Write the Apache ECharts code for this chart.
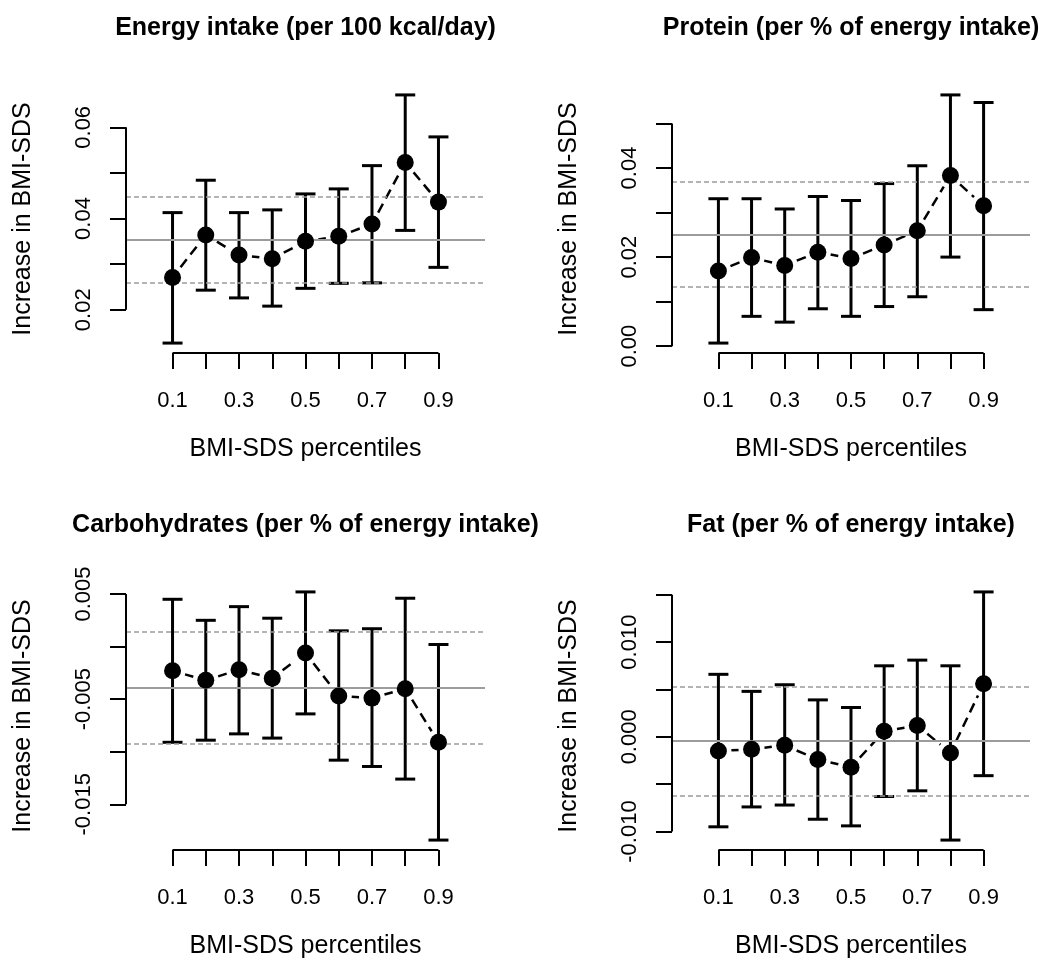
<!DOCTYPE html>
<html>
<head>
<meta charset="utf-8">
<style>
  html, body { margin: 0; padding: 0; background: #ffffff; }
  #chart { width: 1041px; height: 971px; }
</style>
<script src="https://cdn.jsdelivr.net/npm/echarts@6/dist/echarts.min.js"></script>
</head>
<body>
<div id="chart"></div>
<script>
// ---------------- data ----------------
const percentiles = [0.1, 0.2, 0.3, 0.4, 0.5, 0.6, 0.7, 0.8, 0.9];
const xTicks = [0.1, 0.2, 0.3, 0.4, 0.5, 0.6, 0.7, 0.8, 0.9];
const xTickLabels = [0.1, 0.3, 0.5, 0.7, 0.9];
const xLimits = [0, 1];

const titles = [
  'Energy intake (per 100 kcal/day)',
  'Protein (per % of energy intake)',
  'Carbohydrates (per % of energy intake)',
  'Fat (per % of energy intake)'
];
const yTitle = 'Increase in BMI-SDS';
const xTitle = 'BMI-SDS percentiles';

// Energy intake
const energyEst = [0.0271, 0.0364, 0.0320, 0.0312, 0.0350, 0.0361, 0.0388, 0.0523, 0.0436];
const energyLow = [0.0127, 0.0243, 0.0226, 0.0208, 0.0247, 0.0258, 0.0259, 0.0374, 0.0293];
const energyUp  = [0.0413, 0.0484, 0.0413, 0.0419, 0.0454, 0.0465, 0.0516, 0.0671, 0.0579];
const energyMean = 0.0353;
const energyMeanCI = [0.0260, 0.0447];
const energyYTicks = [0.02, 0.03, 0.04, 0.05, 0.06];
const energyYLabels = ['0.02', '0.04', '0.06'];

// Protein
const proteinEst = [0.0169, 0.0199, 0.0181, 0.0211, 0.0197, 0.0227, 0.0259, 0.0383, 0.0315];
const proteinLow = [0.0007, 0.0067, 0.0054, 0.0084, 0.0067, 0.0089, 0.0111, 0.0200, 0.0082];
const proteinUp  = [0.0331, 0.0331, 0.0308, 0.0336, 0.0327, 0.0365, 0.0405, 0.0564, 0.0547];
const proteinMean = 0.0251;
const proteinMeanCI = [0.0133, 0.0370];
const proteinYTicks = [0.00, 0.01, 0.02, 0.03, 0.04, 0.05];
const proteinYLabels = ['0.00', '0.02', '0.04'];

// Carbohydrates
const carbEst = [-0.0023, -0.0032, -0.0022, -0.0030, -0.0006, -0.0047, -0.0049, -0.0040, -0.0091];
const carbLow = [-0.0091, -0.0089, -0.0083, -0.0087, -0.0064, -0.0108, -0.0114, -0.0126, -0.0184];
const carbUp  = [0.0045, 0.0025, 0.0038, 0.0027, 0.0052, 0.0015, 0.0017, 0.0046, 0.0002];
const carbMean = -0.0039;
const carbMeanCI = [-0.0092, 0.0014];
const carbYTicks = [-0.015, -0.010, -0.005, 0.000, 0.005];
const carbYLabels = ['-0.015', '-0.005', '0.005'];

// Fat
const fatEst = [-0.0015, -0.0013, -0.0009, -0.0024, -0.0032, 0.0006, 0.0012, -0.0017, 0.0056];
const fatLow = [-0.0095, -0.0074, -0.0072, -0.0087, -0.0094, -0.0063, -0.0057, -0.0109, -0.0041];
const fatUp  = [0.0066, 0.0048, 0.0055, 0.0039, 0.0031, 0.0075, 0.0081, 0.0075, 0.0153];
const fatMean = -0.0004;
const fatMeanCI = [-0.0062, 0.0053];
const fatYTicks = [-0.010, -0.005, 0.000, 0.005, 0.010, 0.015];
const fatYLabels = ['-0.010', '0.000', '0.010'];

// ---------------- layout / styles ----------------
const panels = [
  { est: energyEst, low: energyLow, up: energyUp, mean: energyMean, ci: energyMeanCI, ticks: energyYTicks, labels: energyYLabels },
  { est: proteinEst, low: proteinLow, up: proteinUp, mean: proteinMean, ci: proteinMeanCI, ticks: proteinYTicks, labels: proteinYLabels },
  { est: carbEst, low: carbLow, up: carbUp, mean: carbMean, ci: carbMeanCI, ticks: carbYTicks, labels: carbYLabels },
  { est: fatEst, low: fatLow, up: fatUp, mean: fatMean, ci: fatMeanCI, ticks: fatYTicks, labels: fatYLabels }
];
const gridBoxes = [
  { left: 126, top: 85, width: 359, height: 268 },
  { left: 672, top: 85, width: 358, height: 268 },
  { left: 126, top: 582, width: 359, height: 268 },
  { left: 672, top: 582, width: 358, height: 268 }
];
const FONT = 'Liberation Sans, Arial, Helvetica, sans-serif';
const GRAY = '#9c9c9c';

function extend(lo, hi) { const d = (hi - lo) * 0.04; return [lo - d, hi + d]; }
const xExt = extend(xLimits[0], xLimits[1]);

const option = {
  backgroundColor: '#ffffff',
  animation: false,
  title: [], grid: [], xAxis: [], yAxis: [], series: []
};

panels.forEach((p, k) => {
  const g = gridBoxes[k];
  const yExt = extend(Math.min.apply(null, p.low), Math.max.apply(null, p.up));
  const labelVals = p.labels.map(Number);
  option.grid.push({ left: g.left, top: g.top, width: g.width, height: g.height, containLabel: false });
  option.title.push({
    text: titles[k], left: g.left + g.width / 2, top: g.top - 69, textAlign: 'center', padding: 0,
    textStyle: { fontFamily: FONT, fontSize: 25, fontWeight: 'bold', color: '#000' }
  });
  option.xAxis.push({
    type: 'value', gridIndex: k, min: xExt[0], max: xExt[1],
    name: xTitle, nameLocation: 'middle', nameGap: 84,
    nameTextStyle: { fontFamily: FONT, fontSize: 25, color: '#000' },
    axisLine: { show: false, onZero: false },
    axisTick: { show: true, customValues: xTicks, length: 16, inside: false, lineStyle: { color: '#000', width: 2 } },
    axisLabel: { show: true, customValues: xTickLabels, margin: 37, fontFamily: FONT, fontSize: 22, color: '#000',
      formatter: v => v.toFixed(1) },
    splitLine: { show: false }
  });
  option.yAxis.push({
    type: 'value', gridIndex: k, min: yExt[0], max: yExt[1],
    name: yTitle, nameLocation: 'middle', nameGap: 90, nameRotate: 90,
    nameTextStyle: { fontFamily: FONT, fontSize: 25, color: '#000' },
    axisLine: { show: false, onZero: false },
    axisTick: { show: true, customValues: p.ticks, length: 16, inside: false, lineStyle: { color: '#000', width: 2 } },
    axisLabel: { show: true, customValues: labelVals, rotate: 90, margin: 31, fontFamily: FONT, fontSize: 22, color: '#000',
      formatter: v => { const i = labelVals.findIndex(t => Math.abs(t - v) < 1e-9); return i >= 0 ? p.labels[i] : ''; } },
    splitLine: { show: false }
  });

  // reference lines
  option.series.push({
    type: 'line', xAxisIndex: k, yAxisIndex: k, data: [], silent: true, z: 1,
    markLine: {
      silent: true, symbol: ['none', 'none'], label: { show: false }, precision: 8,
      data: [
        { yAxis: p.mean, lineStyle: { color: GRAY, width: 2, type: 'solid' } },
        { yAxis: p.ci[0], lineStyle: { color: GRAY, width: 1.5, type: [5, 3] } },
        { yAxis: p.ci[1], lineStyle: { color: GRAY, width: 1.5, type: [5, 3] } }
      ]
    }
  });

  // axis lines (R style: from first to last tick)
  option.series.push({
    type: 'line', xAxisIndex: k, yAxisIndex: k, silent: true, clip: false, symbol: 'none', z: 5,
    lineStyle: { color: '#000', width: 2 },
    data: [[xTicks[0], yExt[0]], [xTicks[xTicks.length - 1], yExt[0]]]
  });
  option.series.push({
    type: 'line', xAxisIndex: k, yAxisIndex: k, silent: true, clip: false, symbol: 'none', z: 5,
    lineStyle: { color: '#000', width: 2 },
    data: [[xExt[0], p.ticks[0]], [xExt[0], p.ticks[p.ticks.length - 1]]]
  });

  // connecting dashed segments with gaps (type "b")
  const segs = percentiles.slice(1).map((x, i) => [percentiles[i], p.est[i], x, p.est[i + 1]]);
  option.series.push({
    type: 'custom', xAxisIndex: k, yAxisIndex: k, silent: true, z: 3, clip: false,
    encode: { x: [0, 2], y: [1, 3] },
    data: segs,
    renderItem: (params, api) => {
      const a = api.coord([api.value(0), api.value(1)]);
      const b = api.coord([api.value(2), api.value(3)]);
      const dx = b[0] - a[0], dy = b[1] - a[1];
      const len = Math.sqrt(dx * dx + dy * dy);
      const gap = 13;
      if (len <= 2 * gap) return null;
      const ux = dx / len, uy = dy / len;
      return {
        type: 'line',
        shape: { x1: a[0] + ux * gap, y1: a[1] + uy * gap, x2: b[0] - ux * gap, y2: b[1] - uy * gap },
        style: { stroke: '#000', lineWidth: 2.5, lineDash: [10, 6] }
      };
    }
  });

  // error bars
  option.series.push({
    type: 'custom', xAxisIndex: k, yAxisIndex: k, silent: true, z: 4, clip: false,
    encode: { x: 0, y: [1, 2] },
    data: percentiles.map((x, i) => [x, p.low[i], p.up[i]]),
    renderItem: (params, api) => {
      const lo = api.coord([api.value(0), api.value(1)]);
      const hi = api.coord([api.value(0), api.value(2)]);
      const hw = 10;
      const st = { stroke: '#000', lineWidth: 3 };
      return {
        type: 'group',
        children: [
          { type: 'line', shape: { x1: lo[0], y1: lo[1], x2: hi[0], y2: hi[1] }, style: st },
          { type: 'line', shape: { x1: lo[0] - hw, y1: lo[1], x2: lo[0] + hw, y2: lo[1] }, style: st },
          { type: 'line', shape: { x1: hi[0] - hw, y1: hi[1], x2: hi[0] + hw, y2: hi[1] }, style: st }
        ]
      };
    }
  });

  // point estimates
  option.series.push({
    type: 'scatter', xAxisIndex: k, yAxisIndex: k, silent: true, z: 6,
    symbol: 'circle', symbolSize: 17,
    itemStyle: { color: '#000', opacity: 1 },
    data: percentiles.map((x, i) => [x, p.est[i]])
  });
});

const chart = echarts.init(document.getElementById('chart'), null, { renderer: 'canvas' });
chart.setOption(option);
</script>
</body>
</html>
